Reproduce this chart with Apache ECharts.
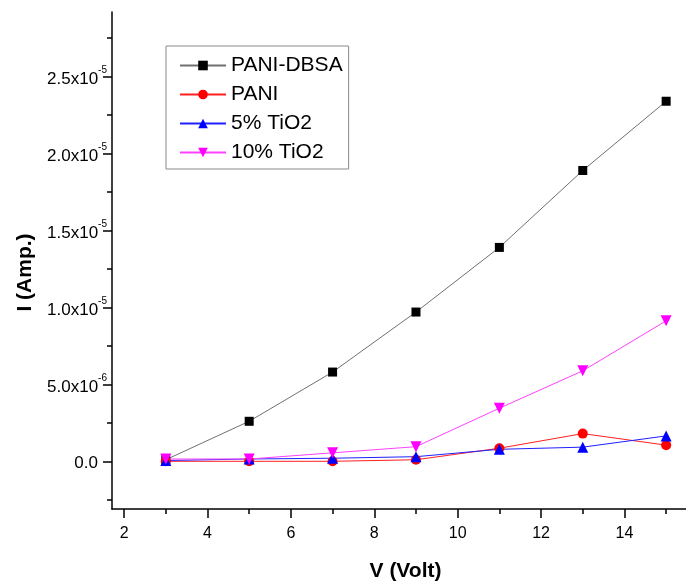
<!DOCTYPE html>
<html>
<head>
<meta charset="utf-8">
<script src="https://cdn.jsdelivr.net/npm/echarts@6.0.0/dist/echarts.min.js"></script>
<style>
  html, body { margin: 0; padding: 0; background: #fff; }
  #chart { width: 686px; height: 581px; }
</style>
</head>
<body>
<div id="chart"></div>
<script>
// data
const volts = [3, 5, 7, 9, 11, 13, 15];
const paniDbsa = [1e-7, 2.6e-6, 5.8e-6, 9.7e-6, 1.39e-5, 1.89e-5, 2.34e-5];
const pani = [0, 0, 0, 1e-7, 8.5e-7, 1.8e-6, 1.05e-6];
const tio2Five = [5e-8, 1.5e-7, 2e-7, 3e-7, 7.8e-7, 9.2e-7, 1.65e-6];
const tio2Ten = [1.5e-7, 1.5e-7, 5.5e-7, 9.5e-7, 3.45e-6, 5.88e-6, 9.13e-6];

const xTicks = [2, 4, 6, 8, 10, 12, 14];
const xMinorTicks = [3, 5, 7, 9, 11, 13, 15];
const yTicks = [0, 5e-6, 1e-5, 1.5e-5, 2e-5, 2.5e-5];
const yMinorTicks = [-2.5e-6, 2.5e-6, 7.5e-6, 1.25e-5, 1.75e-5, 2.25e-5, 2.75e-5];

const font = 'Liberation Sans';
const pairs = arr => volts.map((v, i) => [v, arr[i]]);

// "2.5x10" with the exponent raised, like the Origin labels
function yLabel(v) {
  if (v === 0) return '{m|0.0}{p| }';
  const parts = v.toExponential(1).split('e');
  return '{m|' + parts[0] + 'x10}{e|' + parts[1] + '}';
}

const xRange = { min: 1.71, max: 15.5 };
const yRange = { min: -3.1e-6, max: 2.92e-5 };

function line(name, data, color, lineColor, symbol, size, rotate) {
  return {
    name: name,
    type: 'line',
    data: pairs(data),
    symbol: symbol,
    symbolSize: size,
    symbolRotate: rotate || 0,
    showAllSymbol: true,
    lineStyle: { color: lineColor, width: 1 },
    itemStyle: { color: color },
    emphasis: { disabled: true }
  };
}

const chart = echarts.init(document.getElementById('chart'), null, { renderer: 'canvas' });
chart.setOption({
  animation: false,
  backgroundColor: '#ffffff',
  textStyle: { fontFamily: font },
  grid: { left: 112, right: -1, top: 12, bottom: 72, outerBoundsMode: 'none', containLabel: false },
  legend: {
    left: 166, top: 46,
    orient: 'vertical',
    padding: [9, 6, 6, 13],
    itemGap: 8,
    itemWidth: 46,
    itemHeight: 12,
    itemTextGap: 5,
    borderColor: '#8a8a8a',
    borderWidth: 1,
    textStyle: { fontFamily: font, fontSize: 21, color: '#000', lineHeight: 20 },
    data: ['PANI-DBSA', 'PANI', '5% TiO2', '10% TiO2']
  },
  xAxis: [{
    type: 'value',
    min: xRange.min, max: xRange.max,
    name: 'V (Volt)',
    nameLocation: 'middle',
    nameGap: 52,
    nameTextStyle: { fontFamily: font, fontSize: 21, fontWeight: 'bold', color: '#000', padding: [0, 0, 0, 12] },
    axisLine: { onZero: false, lineStyle: { color: '#000', width: 1.5 } },
    axisTick: { customValues: xTicks, length: 9, lineStyle: { color: '#000', width: 1.5 } },
    axisLabel: { customValues: xTicks, margin: 17, fontSize: 16, color: '#000', fontFamily: font },
    splitLine: { show: false }
  }, {
    type: 'value',
    min: xRange.min, max: xRange.max,
    position: 'bottom',
    axisLine: { show: false, onZero: false },
    axisTick: { customValues: xMinorTicks, length: 5, lineStyle: { color: '#000', width: 1.5 } },
    axisLabel: { show: false },
    splitLine: { show: false }
  }],
  yAxis: [{
    type: 'value',
    min: yRange.min, max: yRange.max,
    name: 'I (Amp.)',
    nameLocation: 'middle',
    nameGap: 67,
    nameTextStyle: { fontFamily: font, fontSize: 21, fontWeight: 'bold', color: '#000', padding: [0, 24, 0, 0] },
    axisLine: { show: true, onZero: false, lineStyle: { color: '#000', width: 1.5 } },
    axisTick: { show: true, customValues: yTicks, length: 9, lineStyle: { color: '#000', width: 1.5 } },
    axisLabel: {
      customValues: yTicks,
      margin: 5,
      formatter: yLabel,
      rich: {
        m: { fontFamily: font, fontSize: 17, color: '#000', lineHeight: 22, verticalAlign: 'bottom' },
        e: { fontFamily: font, fontSize: 10, color: '#000', lineHeight: 22, verticalAlign: 'top' },
        p: { fontSize: 10, width: 9, lineHeight: 22 }
      }
    },
    splitLine: { show: false }
  }, {
    type: 'value',
    min: yRange.min, max: yRange.max,
    position: 'left',
    axisLine: { show: false, onZero: false },
    axisTick: { show: true, customValues: yMinorTicks, length: 5, lineStyle: { color: '#000', width: 1.5 } },
    axisLabel: { show: false },
    splitLine: { show: false }
  }],
  series: [
    line('PANI-DBSA', paniDbsa, '#000000', '#707070', 'rect', 9),
    line('PANI', pani, '#ff0000', '#ff2020', 'circle', 10),
    line('5% TiO2', tio2Five, '#0000ff', '#2020ff', 'triangle', 11),
    line('10% TiO2', tio2Ten, '#ff00ff', '#ff40ff', 'triangle', 11, 180)
  ]
});
</script>
</body>
</html>
